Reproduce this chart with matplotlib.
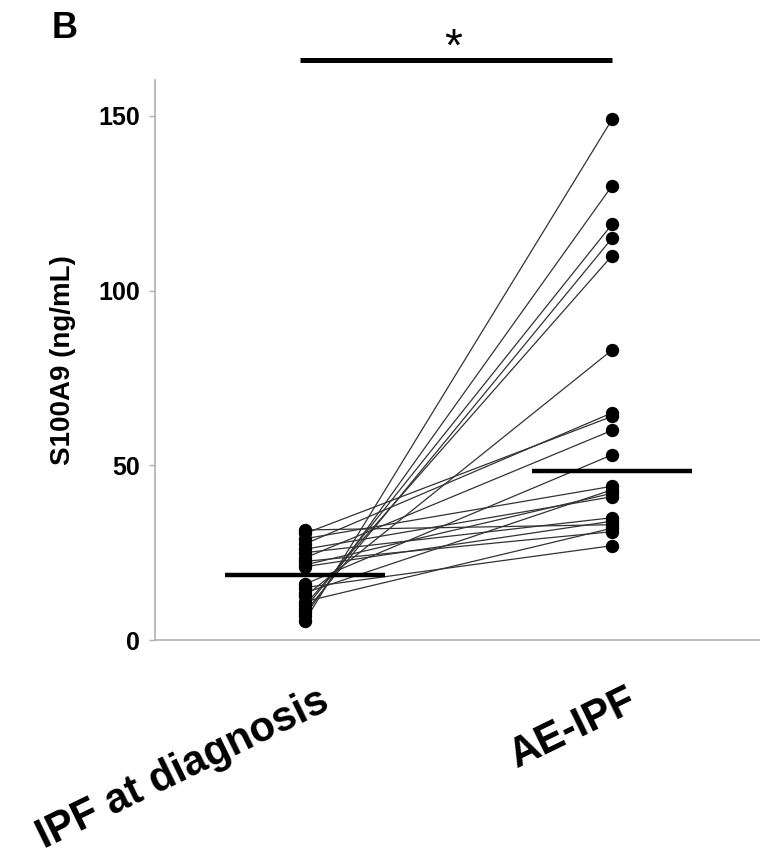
import numpy as np
import matplotlib
matplotlib.use("Agg")
import matplotlib.pyplot as plt
from matplotlib.transforms import ScaledTranslation

plt.rcParams['font.family'] = ['Liberation Sans', 'DejaVu Sans']

# ---- data ----
groups = ["IPF at diagnosis", "AE-IPF"]
ipf_diagnosis = [31.5, 30.5, 29.0, 27.5, 26.0, 25.0, 23.5, 22.5, 21.5, 21.0,
                 16.0, 15.0, 13.5, 12.5, 11.0, 10.0, 9.0, 8.0, 7.0, 5.5]
ae_ipf = [33.0, 64.0, 44.0, 65.0, 41.0, 35.0, 60.0, 31.0, 42.0, 34.0,
          53.0, 27.0, 43.0, 83.0, 32.0, 110.0, 119.0, 115.0, 130.0, 149.0]
yticks = [0, 50, 100, 150]
ylabel = "S100A9 (ng/mL)"
panel_label = "B"
sig_label = "*"

fig = plt.figure(figsize=(7.6, 8.55), dpi=100)
ax = fig.add_axes([155/760, 1-640/855, 605/760, 560/855])

xs = [0, 1]
for a, b in zip(ipf_diagnosis, ae_ipf):
    ax.plot(xs, [a, b], color='#333333', lw=0.9, zorder=2)
ax.plot(np.zeros(len(ipf_diagnosis)), ipf_diagnosis, 'o', color='black',
        ms=8.6, zorder=3, clip_on=False)
ax.plot(np.ones(len(ae_ipf)), ae_ipf, 'o', color='black', ms=8.6, zorder=3,
        clip_on=False)

# medians
hw = 0.26
for x, vals in zip(xs, [ipf_diagnosis, ae_ipf]):
    m = np.median(vals)
    ax.plot([x - hw, x + hw], [m, m], color='black', lw=3.2, zorder=4,
            solid_capstyle='butt')

ax.set_xlim(-0.4886, 1.482)
ax.set_ylim(0, 160.3)

# significance bar
ax.plot([-0.016, 1.0], [166.0, 166.0], color='black', lw=3.6, clip_on=False,
        solid_capstyle='butt')
ax.text(0.482, 165.8, sig_label, fontsize=33, ha='center', va='baseline')

# spines
for s in ['top', 'right']:
    ax.spines[s].set_visible(False)
for s in ['left', 'bottom']:
    ax.spines[s].set_color('#b0b0b0')
    ax.spines[s].set_linewidth(1.2)

ax.set_yticks(yticks)
ax.set_yticklabels([str(t) for t in yticks], fontsize=18, fontweight='bold')
ax.tick_params(axis='y', length=4, width=1, color='#b0b0b0', pad=7)

ax.set_xticks(xs)
ax.set_xticklabels(groups, fontsize=30, fontweight='bold', rotation=26,
                   ha='right', va='center', rotation_mode='anchor')
ax.tick_params(axis='x', length=0, pad=0)
for lab in ax.get_xticklabels():
    lab.set_transform(lab.get_transform() +
                      ScaledTranslation(0.22, -0.585, fig.dpi_scale_trans))

ax.set_ylabel(ylabel, fontsize=20, fontweight='bold')
ax.yaxis.set_label_coords(-0.13, 0.5)

fig.text(65/760, 1-29/855, panel_label, fontsize=26, fontweight='bold',
         ha='center', va='center')

fig.savefig("out.png", dpi=100)
